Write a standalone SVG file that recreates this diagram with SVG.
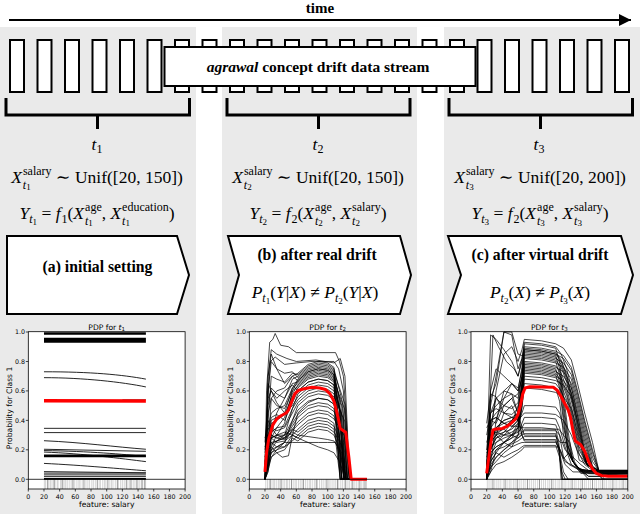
<svg xmlns="http://www.w3.org/2000/svg" width="640" height="514" viewBox="0 0 640 514">
<defs>
<style>
.bg{fill:#eaeaea}
.cell{fill:#fff;stroke:#000;stroke-width:2}
.br{fill:none;stroke:#000;stroke-width:3}
.pent{fill:#fff;stroke:#000;stroke-width:2}
.srf{font-family:"Liberation Serif","Times New Roman","DejaVu Serif",serif;fill:#000}
.ttl{font-size:15px;font-weight:bold}
.box{font-size:15.5px;font-weight:bold}
.plab{font-size:15.7px;font-weight:bold}
.mth{font-family:"Liberation Serif","Times New Roman","DejaVu Serif",serif;font-size:17.5px;fill:#000}
.it{font-style:italic}
.sc{font-size:12px}
.ssc{font-size:9px}
.sans{font-family:"DejaVu Sans","Liberation Sans",sans-serif;fill:#000}
.tk{font-size:6.3px}
.lb{font-size:7.6px}
.frame{fill:#fff;stroke:none}
.fr{fill:none;stroke:#000;stroke-width:0.8}
.zl{stroke:#000;stroke-width:0.8}
.tick{stroke:#000;stroke-width:0.7}
.ice{fill:none;stroke:#000;stroke-width:0.8;stroke-opacity:0.9;stroke-linejoin:round;vector-effect:non-scaling-stroke}
.ice1{fill:none;stroke:#000;stroke-width:1;stroke-opacity:0.85;vector-effect:non-scaling-stroke}
.iceb{fill:none;stroke:#000;stroke-width:1.7;vector-effect:non-scaling-stroke}
.red{fill:none;stroke:#f00;stroke-width:3;stroke-linejoin:round;vector-effect:non-scaling-stroke}
.rug{fill:none;stroke:#aaa;stroke-width:0.5;vector-effect:non-scaling-stroke}
.rugd{fill:none;stroke:#555;stroke-width:0.6;vector-effect:non-scaling-stroke}
</style>
<marker id="ah" viewBox="0 0 12 12" refX="12" refY="6" markerWidth="12" markerHeight="12" markerUnits="userSpaceOnUse" orient="auto"><path d="M0,0L12,6L0,12z" fill="#000"/></marker>
</defs>

<g id="panels">
<rect class="bg" x="0" y="27" width="196" height="487"/>
<rect class="bg" x="222" y="27" width="195" height="487"/>
<rect class="bg" x="444" y="27" width="196" height="487"/>
</g>

<text id="time-label" class="srf ttl" x="320" y="13" text-anchor="middle">time</text>

<g id="stream">
<rect class="cell" x="10" y="40" width="14" height="52"/>
<rect class="cell" x="37.5" y="40" width="14" height="52"/>
<rect class="cell" x="65" y="40" width="14" height="52"/>
<rect class="cell" x="92.5" y="40" width="14" height="52"/>
<rect class="cell" x="120" y="40" width="14" height="52"/>
<rect class="cell" x="147.5" y="40" width="14" height="52"/>
<rect class="cell" x="175" y="40" width="14" height="52"/>
<rect class="cell" x="202.5" y="40" width="14" height="52"/>
<rect class="cell" x="230" y="40" width="14" height="52"/>
<rect class="cell" x="257.5" y="40" width="14" height="52"/>
<rect class="cell" x="285" y="40" width="14" height="52"/>
<rect class="cell" x="312.5" y="40" width="14" height="52"/>
<rect class="cell" x="340" y="40" width="14" height="52"/>
<rect class="cell" x="367.5" y="40" width="14" height="52"/>
<rect class="cell" x="395" y="40" width="14" height="52"/>
<rect class="cell" x="422.5" y="40" width="14" height="52"/>
<rect class="cell" x="450" y="40" width="14" height="52"/>
<rect class="cell" x="477.5" y="40" width="14" height="52"/>
<rect class="cell" x="505" y="40" width="14" height="52"/>
<rect class="cell" x="532.5" y="40" width="14" height="52"/>
<rect class="cell" x="560" y="40" width="14" height="52"/>
<rect class="cell" x="587.5" y="40" width="14" height="52"/>
<rect class="cell" x="615" y="40" width="14" height="52"/>
</g>

<g id="stream-box">
<rect class="cell" x="164.5" y="47" width="311" height="39"/>
<text class="srf box" x="318" y="72" text-anchor="middle"><tspan font-style="italic">agrawal</tspan> concept drift data stream</text>
</g>

<g id="connectors">
<line x1="9" y1="20" x2="631" y2="20" stroke="#000" stroke-width="1.8" marker-end="url(#ah)"/>
<path class="br" d="M6,98V115H189.5V98M97.5,115V129"/>
<path class="br" d="M227,98V115H410V98M318.5,115V129"/>
<path class="br" d="M449,98V115H632.5V98M540.5,115V129"/>
</g>

<g id="panel-t1">
<text class="mth" x="97" y="150" text-anchor="middle"><tspan class="it">t</tspan><tspan class="sc" dy="3">1</tspan></text>
<text class="mth" x="97" y="183" text-anchor="middle"><tspan class="it">X</tspan><tspan class="sc" dx="1" dy="-8">salary</tspan><tspan class="sc it" dx="-28.7" dy="13.5">t</tspan><tspan class="ssc" dy="1.5">1</tspan><tspan dx="20.8" dy="-7"> ∼ Unif([20, 150])</tspan></text>
<text class="mth" x="97" y="219" text-anchor="middle"><tspan class="it">Y</tspan><tspan class="sc it" dy="4">t</tspan><tspan class="ssc" dy="2">1</tspan><tspan dy="-6"> = </tspan><tspan class="it">f</tspan><tspan class="sc" dx="1" dy="4">1</tspan><tspan dy="-4">(</tspan><tspan class="it">X</tspan><tspan class="sc" dx="1" dy="-8">age</tspan><tspan class="sc it" dx="-16.7" dy="13.5">t</tspan><tspan class="ssc" dy="1.5">1</tspan><tspan dx="8.8" dy="-7">, </tspan><tspan class="it">X</tspan><tspan class="sc" dx="1" dy="-8">education</tspan><tspan class="sc it" dx="-46.7" dy="13.5">t</tspan><tspan class="ssc" dy="1.5">1</tspan><tspan dx="38.8" dy="-7">)</tspan></text>
<polygon class="pent" points="7,236 177,236 189,275 177,314 7,314"/>
<text class="srf plab" x="97.5" y="272" text-anchor="middle">(a) initial setting</text>
</g>

<g id="panel-t2">
<text class="mth" x="318" y="150" text-anchor="middle"><tspan class="it">t</tspan><tspan class="sc" dy="3">2</tspan></text>
<text class="mth" x="318" y="183" text-anchor="middle"><tspan class="it">X</tspan><tspan class="sc" dx="1" dy="-8">salary</tspan><tspan class="sc it" dx="-28.7" dy="13.5">t</tspan><tspan class="ssc" dy="1.5">2</tspan><tspan dx="20.8" dy="-7"> ∼ Unif([20, 150])</tspan></text>
<text class="mth" x="318" y="219" text-anchor="middle"><tspan class="it">Y</tspan><tspan class="sc it" dy="4">t</tspan><tspan class="ssc" dy="2">2</tspan><tspan dy="-6"> = </tspan><tspan class="it">f</tspan><tspan class="sc" dx="1" dy="4">2</tspan><tspan dy="-4">(</tspan><tspan class="it">X</tspan><tspan class="sc" dx="1" dy="-8">age</tspan><tspan class="sc it" dx="-16.7" dy="13.5">t</tspan><tspan class="ssc" dy="1.5">2</tspan><tspan dx="8.8" dy="-7">, </tspan><tspan class="it">X</tspan><tspan class="sc" dx="1" dy="-8">salary</tspan><tspan class="sc it" dx="-28.7" dy="13.5">t</tspan><tspan class="ssc" dy="1.5">2</tspan><tspan dx="20.8" dy="-7">)</tspan></text>
<polygon class="pent" points="228,236 400,236 411,275 400,314 228,314 239,275"/>
<text class="srf plab" x="317" y="260" text-anchor="middle">(b) after real drift</text>
<text class="mth" x="315" y="298" text-anchor="middle"><tspan class="it">P</tspan><tspan class="sc it" dy="4">t</tspan><tspan class="ssc" dy="2">1</tspan><tspan dy="-6">(</tspan><tspan class="it">Y</tspan>|<tspan class="it">X</tspan>) ≠ <tspan class="it">P</tspan><tspan class="sc it" dy="4">t</tspan><tspan class="ssc" dy="2">2</tspan><tspan dy="-6">(</tspan><tspan class="it">Y</tspan>|<tspan class="it">X</tspan>)</text>
</g>

<g id="panel-t3">
<text class="mth" x="539" y="150" text-anchor="middle"><tspan class="it">t</tspan><tspan class="sc" dy="3">3</tspan></text>
<text class="mth" x="540" y="183" text-anchor="middle"><tspan class="it">X</tspan><tspan class="sc" dx="1" dy="-8">salary</tspan><tspan class="sc it" dx="-28.7" dy="13.5">t</tspan><tspan class="ssc" dy="1.5">3</tspan><tspan dx="20.8" dy="-7"> ∼ Unif([20, 200])</tspan></text>
<text class="mth" x="540" y="219" text-anchor="middle"><tspan class="it">Y</tspan><tspan class="sc it" dy="4">t</tspan><tspan class="ssc" dy="2">3</tspan><tspan dy="-6"> = </tspan><tspan class="it">f</tspan><tspan class="sc" dx="1" dy="4">2</tspan><tspan dy="-4">(</tspan><tspan class="it">X</tspan><tspan class="sc" dx="1" dy="-8">age</tspan><tspan class="sc it" dx="-16.7" dy="13.5">t</tspan><tspan class="ssc" dy="1.5">3</tspan><tspan dx="8.8" dy="-7">, </tspan><tspan class="it">X</tspan><tspan class="sc" dx="1" dy="-8">salary</tspan><tspan class="sc it" dx="-28.7" dy="13.5">t</tspan><tspan class="ssc" dy="1.5">3</tspan><tspan dx="20.8" dy="-7">)</tspan></text>
<polygon class="pent" points="448,236 621,236 633,275 621,314 448,314 461,275"/>
<text class="srf plab" x="540" y="260" text-anchor="middle">(c) after virtual drift</text>
<text class="mth" x="540" y="298" text-anchor="middle"><tspan class="it">P</tspan><tspan class="sc it" dy="4">t</tspan><tspan class="ssc" dy="2">2</tspan><tspan dy="-6">(</tspan><tspan class="it">X</tspan>) ≠ <tspan class="it">P</tspan><tspan class="sc it" dy="4">t</tspan><tspan class="ssc" dy="2">3</tspan><tspan dy="-6">(</tspan><tspan class="it">X</tspan>)</text>
</g>

<g id="pdp-t1" transform="translate(28.3,0)">
<rect class="frame" x="0" y="331.7" width="156.8" height="157.3"/>
<g transform="translate(0,479.3) scale(0.784,-1.473)">
<path class="rug" d="M20.5,0V-6.6M22,0V-6.6M24.3,0V-6.6M27.8,0V-6.6M29,0V-6.6M31.5,0V-6.6M34.2,0V-6.6M36.9,0V-6.6M38,0V-6.6M41,0V-6.6M42.5,0V-6.6M46.7,0V-6.6M48,0V-6.6M50.3,0V-6.6M53,0V-6.6M55.5,0V-6.6M59.2,0V-6.6M62,0V-6.6M64.5,0V-6.6M66,0V-6.6M68.8,0V-6.6M73.5,0V-6.6M76,0V-6.6M78.2,0V-6.6M81,0V-6.6M83,0V-6.6M85.5,0V-6.6M90.4,0V-6.6M92,0V-6.6M95,0V-6.6M97.3,0V-6.6M99,0V-6.6M104,0V-6.6M106.2,0V-6.6M108,0V-6.6M111,0V-6.6M115,0V-6.6M117.8,0V-6.6M120,0V-6.6M122.4,0V-6.6M127,0V-6.6M129.3,0V-6.6M133.8,0V-6.6M136,0V-6.6M140,0V-6.6M142.2,0V-6.6M146,0V-6.6M149.6,0V-6.6"/>
<path class="rugd" d="M25,0V-6.6M33,0V-6.6M44,0V-6.6M57,0V-6.6M71,0V-6.6M88,0V-6.6M101.5,0V-6.6M113.6,0V-6.6M125,0V-6.6M131,0V-6.6M138.5,0V-6.6M144.9,0V-6.6M148.5,0V-6.6"/>
<path class="iceb" d="M20,99.2H150M20,98.7H150M20,95.5H150M20,94.8H150M20,94H150M20,93.3H150M20,16.2H150M20,15.5H150M20,0.3H150"/>
<path class="ice1" d="M20,73C80,73 120,71 150,68M20,69C70,69 120,66 150,62.7M20,34.6H150M20,31.7H150M20,26.2C70,25 110,22 150,20.4M20,20.4L150,19M20,19.5C80,19 120,17 150,15.5M20,18.5C70,17.5 120,14 150,12M20,10.8C70,9.5 120,7 150,5.8M20,5.2L150,4.4M20,4.2H150M20,3H150M20,1.8H150"/>
<path d="M120,54H150" fill="none" stroke="#6a8f8f" stroke-width="1.5" vector-effect="non-scaling-stroke"/>
<path class="red" style="stroke-width:3.5" d="M20,53.4L150,53.1"/>
</g>
<line class="zl" x1="0" y1="479.3" x2="156.8" y2="479.3"/>
<rect class="fr" x="0" y="331.7" width="156.8" height="157.3"/>
<path class="tick" d="M0,489V491.5M15.68,489V491.5M31.36,489V491.5M47.04,489V491.5M62.72,489V491.5M78.4,489V491.5M94.08,489V491.5M109.76,489V491.5M125.44,489V491.5M141.12,489V491.5M156.8,489V491.5M0,479.3H-2.5M0,449.8H-2.5M0,420.4H-2.5M0,390.9H-2.5M0,361.5H-2.5M0,332H-2.5"/>
<g class="sans tk" text-anchor="middle">
<text x="0" y="499">0</text><text x="15.68" y="499">20</text><text x="31.36" y="499">40</text><text x="47.04" y="499">60</text><text x="62.72" y="499">80</text><text x="78.4" y="499">100</text><text x="94.08" y="499">120</text><text x="109.76" y="499">140</text><text x="125.44" y="499">160</text><text x="141.12" y="499">180</text><text x="156.8" y="499">200</text>
</g>
<g class="sans tk" text-anchor="end">
<text x="-3.3" y="481.5">0.0</text><text x="-3.3" y="452">0.2</text><text x="-3.3" y="422.6">0.4</text><text x="-3.3" y="393.1">0.6</text><text x="-3.3" y="363.7">0.8</text><text x="-3.3" y="334.2">1.0</text>
</g>
<text class="sans lb" x="78.4" y="507" text-anchor="middle">feature: salary</text>
<text class="sans lb" transform="translate(-15.8,408) rotate(-90)" text-anchor="middle">Probability for Class 1</text>
<text class="sans lb" x="78.4" y="329.8" text-anchor="middle">PDP for <tspan font-style="italic">t</tspan><tspan font-size="5.5px" dy="1.5">1</tspan></text>
</g>

<g id="pdp-t2" transform="translate(249.3,0)">
<rect class="frame" x="0" y="331.7" width="156.8" height="157.3"/>
<g transform="translate(0,479.3) scale(0.784,-1.473)">
<path class="rug" d="M21,0V-6.6M23.2,0V-6.6M25.5,0V-6.6M29,0V-6.6M31.2,0V-6.6M32.5,0V-6.6M35,0V-6.6M37.3,0V-6.6M39,0V-6.6M43,0V-6.6M45.2,0V-6.6M47.5,0V-6.6M49,0V-6.6M51.3,0V-6.6M56,0V-6.6M58.4,0V-6.6M60,0V-6.6M62.7,0V-6.6M65,0V-6.6M67.2,0V-6.6M71.6,0V-6.6M74,0V-6.6M76.5,0V-6.6M78,0V-6.6M80.3,0V-6.6M83,0V-6.6M87,0V-6.6M89.6,0V-6.6M92,0V-6.6M94.2,0V-6.6M96.8,0V-6.6M101.3,0V-6.6M103,0V-6.6M105.6,0V-6.6M108,0V-6.6M110.2,0V-6.6M114,0V-6.6M116.7,0V-6.6M119,0V-6.6M121.3,0V-6.6M125.8,0V-6.6M128,0V-6.6M130.4,0V-6.6M134.6,0V-6.6M137,0V-6.6M139.2,0V-6.6M143.5,0V-6.6M145.8,0V-6.6M149.5,0V-6.6"/>
<path class="rugd" d="M26.8,0V-6.6M40.6,0V-6.6M53.8,0V-6.6M69,0V-6.6M85.4,0V-6.6M99,0V-6.6M112.5,0V-6.6M123,0V-6.6M132,0V-6.6M141,0V-6.6M147.6,0V-6.6"/>
<path class="ice" d="M20,0L24,20L28,55L35,60L45,62L55,70L62,72L75,78L88,80L100,79L108,76L112,53L115,27L118,0L150,0
M20,5L24,40L28,70L35,68L45,66L55,72L62,71L75,77L88,79L100,78L108,75L119,52L122,26L125,0L150,0
M20,0L24,10L28,30L35,45L45,55L55,68L62,70L75,76L88,78L100,77L108,74L115,52L118,26L121,0L150,0
M20,10L24,60L28,80L35,75L45,72L55,73L62,69L75,75L88,77L100,76L108,73L122,51L125,26L128,0L150,0
M20,2L24,15L28,40L35,42L45,45L55,62L62,68L75,74L88,76L100,75L108,72L110,50L113,25L116,0L150,0
M20,0L24,5L28,22L35,30L45,38L55,60L62,67L75,73L88,75L100,74L108,71L117,50L120,25L123,0L150,0
M20,20L24,50L28,62L35,58L45,55L55,65L62,66L75,72L88,74L100,73L108,70L112,49L115,25L118,0L150,0
M20,8L24,35L28,45L35,48L45,50L55,62L62,65L75,71L88,73L100,72L108,69L119,48L122,24L125,0L150,0
M20,0L24,12L28,28L35,35L45,42L55,58L62,64L75,70L88,72L100,71L108,68L115,48L118,24L121,0L150,0
M20,15L24,45L28,55L35,50L45,48L55,60L62,63L75,69L88,71L100,70L108,67L122,47L125,23L128,0L150,0
M20,0L24,25L28,38L35,40L45,44L55,56L62,62L75,68L88,70L100,69L108,66L110,46L113,23L116,0L150,0
M20,5L24,30L28,42L35,44L45,40L55,52L62,60L75,66L88,68L100,67L108,64L117,45L120,22L123,0L150,0
M20,0L24,8L28,20L35,26L45,30L55,48L62,58L75,64L88,66L100,65L108,62L112,43L115,22L118,0L150,0
M20,25L24,55L28,60L35,52L45,45L55,50L62,56L75,62L88,64L100,63L108,60L119,42L122,21L125,0L150,0
M20,0L24,18L28,32L35,35L45,36L55,48L62,54L75,60L88,62L100,61L108,58L115,41L118,20L121,0L150,0
M20,10L24,30L28,35L35,33L45,35L55,45L62,52L75,58L88,60L100,59L108,56L122,39L125,20L128,0L150,0
M20,0L24,6L28,15L35,20L45,25L55,40L62,50L75,56L88,58L100,57L108,54L110,38L113,19L116,0L150,0
M20,3L24,22L28,28L35,30L45,30L55,40L62,47L75,53L88,55L100,54L108,51L117,36L120,18L123,0L150,0
M20,0L24,12L28,24L35,26L45,28L55,38L62,44L75,50L88,52L100,51L108,48L112,34L115,17L118,0L150,0
M20,18L24,40L28,35L35,30L45,28L55,36L62,42L75,48L88,50L100,49L108,46L119,32L122,16L125,0L150,0
M20,0L24,15L28,20L35,22L45,25L55,34L62,39L75,45L88,47L100,46L108,43L115,30L118,15L121,0L150,0
M20,5L24,25L28,30L35,28L45,27L55,33L62,37L75,43L88,45L100,44L108,41L122,29L125,14L128,0L150,0
M20,0L24,10L28,18L35,20L45,22L55,30L62,34L75,40L88,42L100,41L108,38L110,27L113,13L116,0L150,0
M20,28L24,35L28,30L35,28L45,30L55,34L62,32L75,38L88,40L100,39L108,36L117,25L120,13L123,0L150,0
M20,0L24,20L28,25L35,26L45,28L55,32L62,30L75,36L88,38L100,37L108,34L112,24L115,12L118,0L150,0
M20,12L24,30L28,28L35,25L45,26L55,30L62,28L75,34L88,36L100,35L108,32L119,22L122,11L125,0L150,0
M20,0L24,8L28,15L35,18L45,20L55,28L62,26L75,32L88,34L100,33L108,30L115,21L118,11L121,0L150,0
M20,22L24,28L28,25L35,22L45,22L55,26L62,30L75,29L88,28L100,27L108,26L118,18L121,9L124,0L150,0
M20,0L24,10L28,18L35,22L45,25L55,25L62,25L75,25L88,25L100,25L110,25L116,18L120,8L124,0L150,0
M20,30L24,30L28,28L35,30L45,32L55,30L62,28L75,25L88,22L100,20L108,18L115,12L119,6L122,0L150,0
M20,0L22,60L26,93L30,95L33,99L40,91L50,90L60,86L110,86L115,80L120,70L124,40L127,0L150,0
M20,0L23,50L27,80L33,83L45,78L60,79L80,80L108,80L114,75L120,60L126,0L150,0
M20,5L24,70L28,88L35,85L48,82L60,80L85,81L108,79L116,82L122,70L128,0L150,0
M20,0L24,70L28,85L35,75L45,65L55,70L62,67L75,73L88,75L100,74L108,71L114,50L118,25L121,0L150,0
M20,0L24,65L28,60L35,55L45,60L55,64L62,60L75,66L88,68L100,67L108,64L116,45L119,22L122,0L150,0
M20,15L24,20L28,22L35,18L42,15L50,16L55,30L62,45L75,52L88,55L100,54L108,51L114,36L117,18L120,0L150,0"/>
<path class="red" d="M20,5L22,18L25,28L30,37L35,41L40,43L47,45L50,47L55,54L58,58L63,60.5L70,61.5L80,62.5L90,62L97,61L103,58L108,53L111,47L114,40L116,34.5L120,33L123,32L127,15L130,0L150,0"/>
</g>
<line class="zl" x1="0" y1="479.3" x2="156.8" y2="479.3"/>
<rect class="fr" x="0" y="331.7" width="156.8" height="157.3"/>
<path class="tick" d="M0,489V491.5M15.68,489V491.5M31.36,489V491.5M47.04,489V491.5M62.72,489V491.5M78.4,489V491.5M94.08,489V491.5M109.76,489V491.5M125.44,489V491.5M141.12,489V491.5M156.8,489V491.5M0,479.3H-2.5M0,449.8H-2.5M0,420.4H-2.5M0,390.9H-2.5M0,361.5H-2.5M0,332H-2.5"/>
<g class="sans tk" text-anchor="middle">
<text x="0" y="499">0</text><text x="15.68" y="499">20</text><text x="31.36" y="499">40</text><text x="47.04" y="499">60</text><text x="62.72" y="499">80</text><text x="78.4" y="499">100</text><text x="94.08" y="499">120</text><text x="109.76" y="499">140</text><text x="125.44" y="499">160</text><text x="141.12" y="499">180</text><text x="156.8" y="499">200</text>
</g>
<g class="sans tk" text-anchor="end">
<text x="-3.3" y="481.5">0.0</text><text x="-3.3" y="452">0.2</text><text x="-3.3" y="422.6">0.4</text><text x="-3.3" y="393.1">0.6</text><text x="-3.3" y="363.7">0.8</text><text x="-3.3" y="334.2">1.0</text>
</g>
<text class="sans lb" x="78.4" y="507" text-anchor="middle">feature: salary</text>
<text class="sans lb" transform="translate(-16.3,408) rotate(-90)" text-anchor="middle">Probability for Class 1</text>
<text class="sans lb" x="78.4" y="329.8" text-anchor="middle">PDP for <tspan font-style="italic">t</tspan><tspan font-size="5.5px" dy="1.5">2</tspan></text>
</g>

<g id="pdp-t3" transform="translate(471,0)">
<rect class="frame" x="0" y="331.7" width="156.8" height="157.3"/>
<g transform="translate(0,479.3) scale(0.784,-1.473)">
<path class="rug" d="M20.8,0V-6.6M23,0V-6.6M25.6,0V-6.6M30.3,0V-6.6M33,0V-6.6M35.5,0V-6.6M38,0V-6.6M41.2,0V-6.6M46,0V-6.6M48.8,0V-6.6M51,0V-6.6M54,0V-6.6M56.3,0V-6.6M61.5,0V-6.6M64,0V-6.6M66.8,0V-6.6M69,0V-6.6M74.5,0V-6.6M77,0V-6.6M79.6,0V-6.6M82,0V-6.6M85,0V-6.6M90,0V-6.6M92.6,0V-6.6M95,0V-6.6M98,0V-6.6M100.4,0V-6.6M105.5,0V-6.6M108,0V-6.6M111,0V-6.6M113.2,0V-6.6M118.7,0V-6.6M121,0V-6.6M124,0V-6.6M126.5,0V-6.6M131.8,0V-6.6M134,0V-6.6M137,0V-6.6M139.5,0V-6.6M144.7,0V-6.6M147,0V-6.6M150,0V-6.6M152.4,0V-6.6M157.8,0V-6.6M160,0V-6.6M163,0V-6.6M165.5,0V-6.6M170.6,0V-6.6M173,0V-6.6M176,0V-6.6M178.4,0V-6.6M183.7,0V-6.6M186,0V-6.6M189,0V-6.6M191.5,0V-6.6M196.6,0V-6.6M199,0V-6.6"/>
<path class="rugd" d="M28,0V-6.6M43.5,0V-6.6M59,0V-6.6M72,0V-6.6M87.4,0V-6.6M103,0V-6.6M116,0V-6.6M129,0V-6.6M142,0V-6.6M155,0V-6.6M168,0V-6.6M181,0V-6.6M194,0V-6.6"/>
<path class="ice" d="M20,0L25,30L32,60L42,85L52,90L60,80L65,88L68,95L90,94L108,92L118,89L128,81L135,67L145,45L155,25L163,6L170,6L200,6
M20,5L25,98L32,95L42,88L52,80L60,70L65,82L68,93L90,92L108,90L115,85L122,75L130,58L138,38L148,10L158,6L168,5L200,5
M20,0L25,10L32,40L42,60L52,65L60,60L65,76L68,92L90,91L108,89L113,80L118,57L124,32L130,12L138,7L150,2L200,2
M20,20L25,50L32,70L42,100L52,98L60,75L65,82L68,90L90,89L108,87L118,84L128,76L135,62L145,40L155,20L163,6L170,6L200,6
M20,0L25,35L32,55L42,50L52,48L60,52L65,70L68,89L90,88L108,86L115,81L122,71L130,54L138,34L148,10L158,6L168,0L200,0
M20,10L25,20L32,30L42,35L52,40L60,45L65,66L68,88L90,87L108,85L118,82L128,74L135,60L145,38L155,18L163,6L170,4L200,4
M20,0L25,60L32,75L42,70L52,65L60,62L65,74L68,87L90,86L108,84L113,75L118,52L124,27L130,12L138,7L150,6L200,6
M20,30L25,45L32,50L42,55L52,58L60,55L65,70L68,86L90,85L108,83L115,78L122,68L130,51L138,31L148,10L158,6L168,5L200,5
M20,0L25,15L32,25L42,30L52,35L60,40L65,62L68,85L90,84L108,82L118,79L128,71L135,57L145,35L155,15L163,6L170,2L200,2
M20,5L25,55L32,65L42,100L52,100L60,85L65,84L68,84L90,83L108,81L115,76L122,66L130,49L138,29L148,10L158,6L168,6L200,6
M20,0L25,25L32,35L42,40L52,42L60,45L65,64L68,83L90,82L108,80L113,71L118,48L124,23L130,12L138,7L150,0L200,0
M20,15L25,40L32,45L42,50L52,55L60,58L65,70L68,82L90,81L108,79L118,76L128,68L135,54L145,32L155,12L163,6L170,4L200,4
M20,0L25,5L32,20L42,25L52,30L60,38L65,59L68,80L90,79L108,77L115,72L122,62L130,45L138,25L148,10L158,6L168,6L200,6
M20,38L25,58L32,56L42,45L52,42L60,40L65,60L68,79L90,78L108,76L118,73L128,65L135,51L145,29L155,9L163,6L170,5L200,5
M20,0L25,20L32,28L42,32L52,38L60,50L65,64L68,78L90,77L108,75L113,66L118,43L124,18L130,12L138,7L150,2L200,2
M20,8L25,30L32,35L42,38L52,40L60,45L65,61L68,77L90,76L108,74L115,69L122,59L130,42L138,22L148,10L158,6L168,6L200,6
M20,0L25,45L32,48L42,45L52,44L60,48L65,62L68,76L90,75L108,73L118,70L128,62L135,48L145,26L155,8L163,6L170,0L200,0
M20,25L25,35L32,40L42,55L52,65L60,60L65,68L68,75L90,74L108,72L115,67L122,57L130,40L138,20L148,10L158,6L168,4L200,4
M20,0L25,12L32,18L42,25L52,30L60,35L65,55L68,74L90,73L108,71L113,62L118,39L124,18L130,12L138,7L150,6L200,6
M20,5L25,40L32,42L42,38L52,36L60,40L65,57L68,73L90,72L108,70L118,67L128,59L135,45L145,23L155,8L163,6L170,5L200,5
M20,0L25,28L32,32L42,30L52,32L60,35L65,54L68,72L90,71L108,69L115,64L122,54L130,37L138,17L148,10L158,6L168,2L200,2
M20,18L25,22L32,25L42,28L52,30L60,33L65,52L68,70L90,69L108,67L118,64L128,56L135,42L145,20L155,8L163,6L170,6L200,6
M20,0L25,8L32,15L42,20L52,25L60,30L65,49L68,68L90,67L108,65L115,60L122,50L130,33L138,13L148,10L158,6L168,0L200,0
M20,10L25,30L32,33L42,35L52,38L60,42L65,54L68,65L90,64L108,62L113,53L118,30L124,18L130,12L138,7L150,4L200,4
M20,0L25,18L32,22L42,25L52,28L60,35L65,49L68,62L90,61L108,59L118,56L128,48L135,34L145,12L155,8L163,6L170,6L200,6
M20,0L28,98L35,90L45,80L55,75L60,70L65,80L68,88L90,87L108,85L115,80L122,70L130,53L138,33L148,10L158,6L168,5L200,5
M20,0L25,20L32,28L42,30L52,30L60,32L65,35L68,38L90,38L108,37L113,30L118,15L125,10L140,6L160,5L200,5
M20,10L25,40L32,42L42,38L52,36L60,36L65,35L68,35L90,35L108,34L112,25L116,0L200,0
M20,0L25,15L32,20L42,22L52,25L60,28L65,31L68,33L90,33L108,33L113,30L120,20L130,15L140,10L150,6L165,3L200,3
M20,5L25,30L32,32L42,34L52,30L60,28L65,30L68,31L90,31L108,31L112,22L115,0L200,0
M20,0L25,10L32,15L42,20L52,24L60,26L65,28L68,29L90,29L108,29L114,25L122,25L132,10L145,5L200,5
M20,20L25,25L32,30L42,45L52,50L60,40L65,30L68,27L90,27L108,27L113,18L118,5L124,0L200,0
M20,0L25,35L32,30L42,25L52,22L60,24L65,25L68,25L90,25L108,25L114,20L120,12L135,8L150,5L200,5
M20,8L25,12L32,18L42,15L52,18L60,20L65,22L68,23L90,23L108,23L113,15L117,0L200,0
M20,0L25,5L32,10L42,12L52,15L60,18L65,20L68,22L90,22L108,22L112,22L118,14L125,18L130,12L140,4L200,3
M20,35L25,40L32,38L42,50L52,55L60,45L65,35L68,30L90,30L108,30L113,20L120,10L130,5L200,5
M20,0L25,45L32,55L42,60L52,58L60,45L65,30L68,26L90,26L108,26L112,20L116,5L120,0L200,0
M20,15L25,18L32,22L42,25L52,28L60,30L65,32L68,34L90,34L108,34L112,34L118,30L126,25L132,12L140,5L200,5
M20,0L25,25L32,30L42,32L52,34L60,38L65,45L68,50L90,50L108,49L113,45L118,35L124,22L130,12L140,6L200,5
M20,12L25,30L32,35L42,40L52,42L60,40L65,43L68,45L90,45L108,44L118,40L128,30L135,20L145,10L155,6L200,6
M20,0L25,8L32,12L42,18L52,22L60,30L65,38L68,42L90,42L108,41L113,35L120,22L128,10L140,5L200,2"/>
<path class="red" d="M20,4L22,12L25,24L28,33.5L32,34.2L40,34.5L46,36L52,38.5L57,41L60,44L63,50L66,58L69,62L75,62.8L90,62.7L105,62.5L110,60.5L115,56L120,51L124,47L127,42L130,33L133,26L140,23.5L145,19L150,12L155,7L160,4L167,2.5L175,2L200,2"/>
</g>
<line class="zl" x1="0" y1="479.3" x2="156.8" y2="479.3"/>
<rect class="fr" x="0" y="331.7" width="156.8" height="157.3"/>
<path class="tick" d="M0,489V491.5M15.68,489V491.5M31.36,489V491.5M47.04,489V491.5M62.72,489V491.5M78.4,489V491.5M94.08,489V491.5M109.76,489V491.5M125.44,489V491.5M141.12,489V491.5M156.8,489V491.5M0,479.3H-2.5M0,449.8H-2.5M0,420.4H-2.5M0,390.9H-2.5M0,361.5H-2.5M0,332H-2.5"/>
<g class="sans tk" text-anchor="middle">
<text x="0" y="499">0</text><text x="15.68" y="499">20</text><text x="31.36" y="499">40</text><text x="47.04" y="499">60</text><text x="62.72" y="499">80</text><text x="78.4" y="499">100</text><text x="94.08" y="499">120</text><text x="109.76" y="499">140</text><text x="125.44" y="499">160</text><text x="141.12" y="499">180</text><text x="156.8" y="499">200</text>
</g>
<g class="sans tk" text-anchor="end">
<text x="-3.3" y="481.5">0.0</text><text x="-3.3" y="452">0.2</text><text x="-3.3" y="422.6">0.4</text><text x="-3.3" y="393.1">0.6</text><text x="-3.3" y="363.7">0.8</text><text x="-3.3" y="334.2">1.0</text>
</g>
<text class="sans lb" x="78.4" y="507" text-anchor="middle">feature: salary</text>
<text class="sans lb" transform="translate(-16.5,408) rotate(-90)" text-anchor="middle">Probability for Class 1</text>
<text class="sans lb" x="78.4" y="329.8" text-anchor="middle">PDP for <tspan font-style="italic">t</tspan><tspan font-size="5.5px" dy="1.5">3</tspan></text>
</g>
</svg>
